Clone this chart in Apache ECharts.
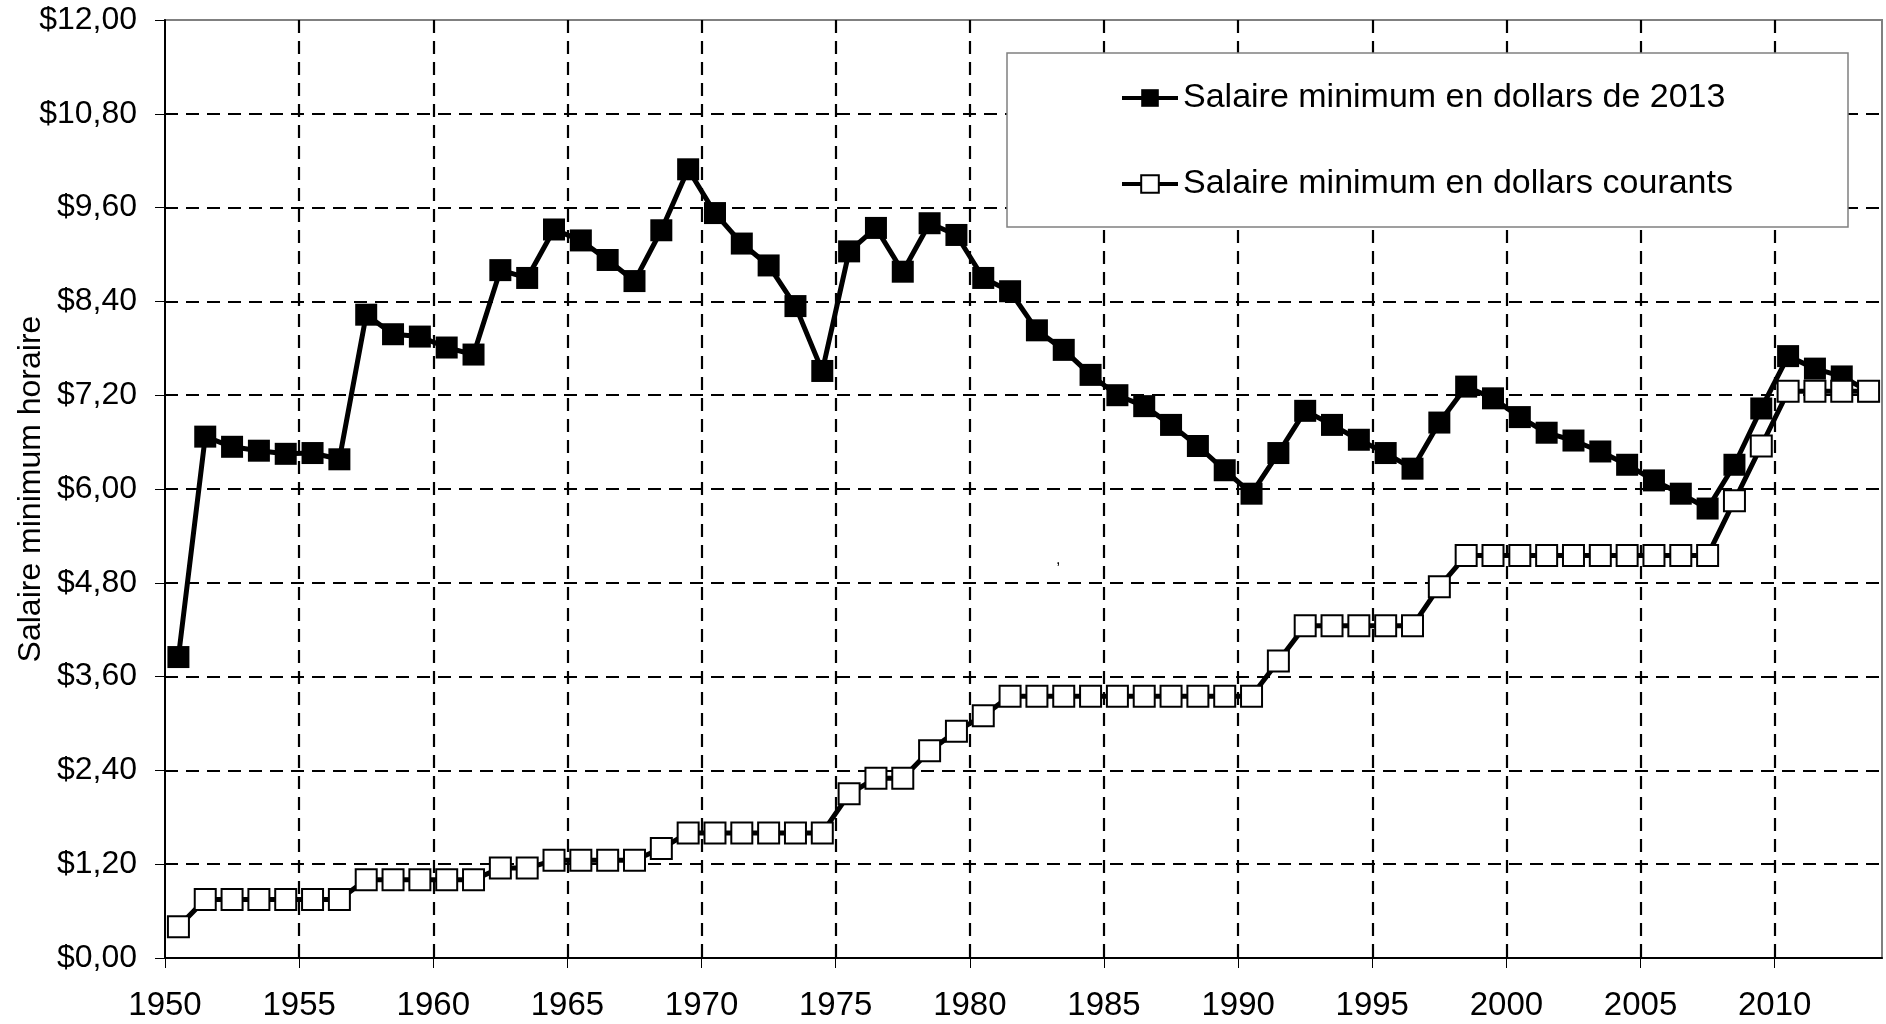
<!DOCTYPE html>
<html>
<head>
<meta charset="utf-8">
<script src="https://cdn.jsdelivr.net/npm/echarts@6/dist/echarts.min.js"></script>
<style>
  html, body { margin: 0; padding: 0; background: #fff; }
  #main { width: 1886px; height: 1024px; }
</style>
</head>
<body>
<div id="main"></div>
<script>
// years of the two series
var years = [1950, 1951, 1952, 1953, 1954, 1955, 1956, 1957, 1958, 1959,
  1960, 1961, 1962, 1963, 1964, 1965, 1966, 1967, 1968, 1969,
  1970, 1971, 1972, 1973, 1974, 1975, 1976, 1977, 1978, 1979,
  1980, 1981, 1982, 1983, 1984, 1985, 1986, 1987, 1988, 1989,
  1990, 1991, 1992, 1993, 1994, 1995, 1996, 1997, 1998, 1999,
  2000, 2001, 2002, 2003, 2004, 2005, 2006, 2007, 2008, 2009,
  2010, 2011, 2012, 2013];

// salaire minimum en dollars de 2013
var reel = [3.85, 6.67, 6.54, 6.49, 6.45, 6.46, 6.38, 8.23, 7.98, 7.95,
  7.81, 7.72, 8.80, 8.70, 9.32, 9.18, 8.93, 8.66, 9.31, 10.09,
  9.53, 9.14, 8.86, 8.34, 7.51, 9.04, 9.34, 8.78, 9.40, 9.25,
  8.70, 8.53, 8.03, 7.78, 7.46, 7.20, 7.06, 6.82, 6.55, 6.24,
  5.94, 6.46, 7.00, 6.82, 6.63, 6.46, 6.26, 6.85, 7.31, 7.16,
  6.92, 6.72, 6.62, 6.48, 6.31, 6.11, 5.94, 5.75, 6.31, 7.03,
  7.70, 7.54, 7.44, 7.25];

// salaire minimum en dollars courants
var courant = [0.40, 0.75, 0.75, 0.75, 0.75, 0.75, 0.75, 1.00, 1.00, 1.00,
  1.00, 1.00, 1.15, 1.15, 1.25, 1.25, 1.25, 1.25, 1.40, 1.60,
  1.60, 1.60, 1.60, 1.60, 1.60, 2.10, 2.30, 2.30, 2.65, 2.90,
  3.10, 3.35, 3.35, 3.35, 3.35, 3.35, 3.35, 3.35, 3.35, 3.35,
  3.35, 3.80, 4.25, 4.25, 4.25, 4.25, 4.25, 4.75, 5.15, 5.15,
  5.15, 5.15, 5.15, 5.15, 5.15, 5.15, 5.15, 5.15, 5.85, 6.55,
  7.25, 7.25, 7.25, 7.25];

var nomReel = 'Salaire minimum en dollars de 2013';
var nomCourant = 'Salaire minimum en dollars courants';
var titreY = 'Salaire minimum horaire';

var font = "'Liberation Sans', Arial, sans-serif";

// each point sits in the middle of its year
function paires(vals) {
  return years.map(function (y, i) { return [y + 0.5, vals[i]]; });
}

var myChart = echarts.init(document.getElementById('main'));
var option = {
  backgroundColor: '#fff',
  animation: false,
  textStyle: { fontFamily: font, color: '#000' },
  grid: {
    left: 165, right: 4, top: 20, bottom: 66,
    outerBoundsMode: 'none',
    containLabel: false,
    show: true, borderColor: '#808080', borderWidth: 2
  },
  graphic: [
    {
      type: 'rect', z: 3,
      shape: { x: 1007, y: 53, width: 841, height: 174 },
      style: { fill: '#fff', stroke: '#808080', lineWidth: 1.5 }
    },
    {
      type: 'text', z: 3, left: 1056, top: 552,
      style: { text: ',', fontSize: 16, fontFamily: font, fill: '#000' }
    }
  ],
  legend: {
    orient: 'vertical',
    left: 1120, top: 81,
    padding: 0,
    itemWidth: 56, itemHeight: 22, itemGap: 52,
    z: 5,
    lineStyle: { width: 4, color: '#000' },
    textStyle: { fontFamily: font, fontSize: 34, color: '#000', padding: [0, 0, 0, 0] },
    data: [nomReel, nomCourant]
  },
  xAxis: {
    type: 'value',
    min: 1950, max: 2014, interval: 5,
    axisLine: { lineStyle: { color: '#000', width: 2 } },
    axisTick: { show: true, length: 10, lineStyle: { color: '#000', width: 1 } },
    axisLabel: {
      fontSize: 33, color: '#000', fontFamily: font, margin: 31,
      showMaxLabel: false,
      formatter: function (v) { return v === 2014 ? '' : String(v); }
    },
    splitLine: {
      show: true, showMinLine: false, showMaxLine: false,
      lineStyle: { color: '#000', width: 2.2, type: [13, 8] }
    }
  },
  yAxis: {
    type: 'value',
    min: 0, max: 12, interval: 1.2,
    name: titreY,
    nameLocation: 'middle',
    nameMoveOverlap: false,
    nameGap: 118,
    nameRotate: 90,
    nameTextStyle: { fontSize: 32, color: '#000', fontFamily: font },
    axisLine: { show: true, lineStyle: { color: '#000', width: 2 } },
    axisTick: { show: true, length: 10, lineStyle: { color: '#000', width: 1 } },
    axisLabel: {
      fontSize: 32, color: '#000', fontFamily: font, margin: 28,
      formatter: function (v) { return '$' + v.toFixed(2).replace('.', ','); }
    },
    splitLine: {
      show: true, showMinLine: false, showMaxLine: false,
      lineStyle: { color: '#000', width: 2.2, type: [13, 8] }
    }
  },
  series: [
    {
      name: nomReel,
      type: 'line',
      data: paires(reel),
      symbol: 'rect',
      symbolSize: 22,
      lineStyle: { color: '#000', width: 5 },
      itemStyle: { color: '#000', borderColor: '#000', borderWidth: 0 },
      z: 2
    },
    {
      name: nomCourant,
      type: 'line',
      data: paires(courant),
      symbol: 'rect',
      symbolSize: 21,
      lineStyle: { color: '#000', width: 5 },
      itemStyle: { color: '#fff', borderColor: '#000', borderWidth: 2 },
      z: 3
    }
  ]
};
myChart.setOption(option);
</script>
</body>
</html>
